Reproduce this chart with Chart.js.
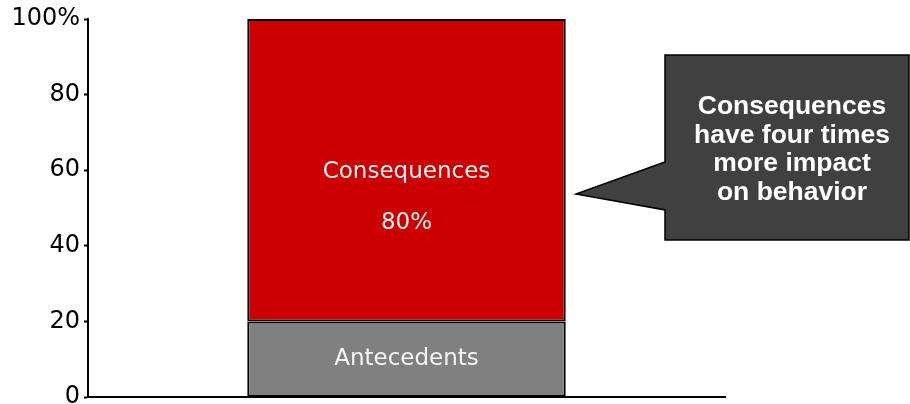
<!DOCTYPE html>
<html lang="en">
<head>
    <meta charset="UTF-8">
    <title>Antecedents vs Consequences</title>
    <script src="https://cdn.jsdelivr.net/npm/chart.js@4.4.1/dist/chart.umd.min.js"></script>
    <style>
        html, body {
            margin: 0;
            padding: 0;
            background: white;
            overflow: hidden;
        }
        #chart {
            display: block;
        }
    </style>
</head>
<body>
    <canvas id="chart" width="910" height="420"></canvas>

    <script>
        const categories = [''];
        const seriesNames = ['Antecedents', 'Consequences'];
        const antecedents = [20];
        const consequences = [80];
        const seriesColors = ['#808080', '#cc0000'];
        const showValue = [false, true];
        const tickValues = [0, 20, 40, 60, 80, 100];
        const calloutLines = ['Consequences', 'have four times', 'more impact', 'on behavior'];

        // writes the series name (and value) in the middle of each segment
        const segmentLabels = {
            id: 'segmentLabels',
            afterDatasetsDraw(chart) {
                const ctx = chart.ctx;
                ctx.save();
                ctx.fillStyle = '#f4f4f4';
                ctx.font = '23px "DejaVu Sans"';
                ctx.textAlign = 'center';
                ctx.textBaseline = 'middle';
                chart.data.datasets.forEach((ds, i) => {
                    const bar = chart.getDatasetMeta(i).data[0];
                    const mid = (bar.y + bar.base) / 2;
                    if (showValue[i]) {
                        ctx.fillText(ds.label, bar.x, mid + 2);
                        ctx.fillText(ds.data[0] + '%', bar.x, mid + 53);
                    } else {
                        ctx.fillText(ds.label, bar.x, mid);
                    }
                });
                ctx.restore();
            }
        };

        // speech-bubble note on the right
        const callout = {
            id: 'callout',
            afterDraw(chart) {
                const ctx = chart.ctx;
                const left = 665, top = 55, right = 909, bottom = 240;
                ctx.save();
                ctx.beginPath();
                ctx.moveTo(left, top);
                ctx.lineTo(right, top);
                ctx.lineTo(right, bottom);
                ctx.lineTo(left, bottom);
                ctx.lineTo(left, 210);
                ctx.lineTo(576, 194);
                ctx.lineTo(left, 162);
                ctx.closePath();
                ctx.fillStyle = '#404040';
                ctx.fill();
                ctx.lineWidth = 1.5;
                ctx.strokeStyle = '#000';
                ctx.stroke();

                ctx.fillStyle = '#fff';
                ctx.font = 'bold 26.5px "Liberation Sans"';
                ctx.textAlign = 'center';
                ctx.textBaseline = 'middle';
                calloutLines.forEach((line, i) => {
                    ctx.fillText(line, 792, 107 + i * 28.5);
                });
                ctx.restore();
            }
        };

        new Chart(document.getElementById('chart'), {
            type: 'bar',
            data: {
                labels: categories,
                datasets: [
                    {
                        label: seriesNames[0],
                        data: antecedents,
                        backgroundColor: seriesColors[0]
                    },
                    {
                        label: seriesNames[1],
                        data: consequences,
                        backgroundColor: seriesColors[1]
                    }
                ]
            },
            options: {
                responsive: false,
                animation: false,
                layout: {
                    padding: { left: 0, right: 185, top: 19, bottom: 23 }
                },
                datasets: {
                    bar: {
                        barPercentage: 1,
                        categoryPercentage: 0.5,
                        borderColor: '#000',
                        borderWidth: 2,
                        borderSkipped: false
                    }
                },
                plugins: {
                    legend: { display: false },
                    tooltip: { enabled: false }
                },
                scales: {
                    x: {
                        stacked: true,
                        grid: { display: false },
                        border: { display: true, color: '#000', width: 2 },
                        ticks: { display: false },
                        afterFit(scale) { scale.height = 0; }
                    },
                    y: {
                        stacked: true,
                        min: 0,
                        max: 100,
                        afterBuildTicks(scale) {
                            scale.ticks = tickValues.map(v => ({ value: v }));
                        },
                        grid: {
                            drawOnChartArea: false,
                            drawTicks: true,
                            tickLength: 4,
                            tickWidth: 2,
                            tickColor: '#000'
                        },
                        border: { display: true, color: '#000', width: 2 },
                        ticks: {
                            color: '#000',
                            padding: 4,
                            font: { family: 'DejaVu Sans', size: 24 },
                            callback: v => v === 100 ? '100%' : v
                        },
                        afterFit(scale) { scale.width = 88; }
                    }
                }
            },
            plugins: [segmentLabels, callout]
        });
    </script>
</body>
</html>
